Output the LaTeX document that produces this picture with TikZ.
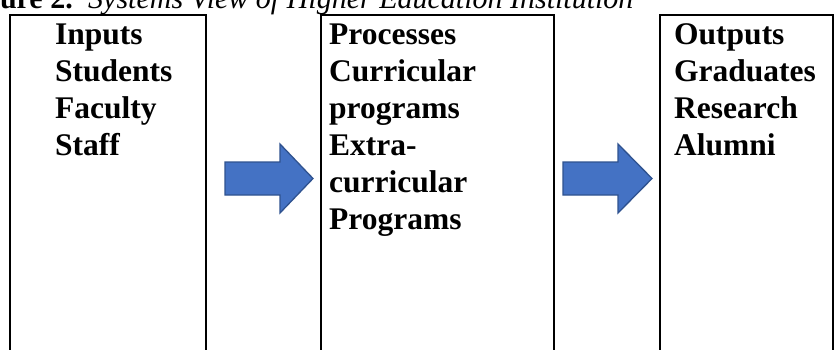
\documentclass[tikz,border=0pt]{standalone}
\usepackage{fontspec}
\setmainfont{Liberation Serif}
\definecolor{arrowfill}{RGB}{68,114,196}
\definecolor{arrowline}{RGB}{47,82,143}
\begin{document}
\begin{tikzpicture}[x=1pt,y=-1pt,
  colbox/.style={draw=black,line width=2pt},
  coltext/.style={anchor=base west,inner sep=0pt,
    font=\fontsize{31.5}{37}\selectfont\bfseries},
  blockarrow/.style={fill=arrowfill,draw=arrowline,line width=1.3pt,line join=miter}]
\useasboundingbox (0,0) rectangle (834,349);
\clip (0,0) rectangle (834,349);
\fill[white] (0,0) rectangle (834,349);
% caption
\node[anchor=base east,inner sep=0pt,font=\fontsize{30}{36}\selectfont\bfseries] (figlabel) at (73,8) {Figure 2.};
\node[anchor=base west,inner sep=0pt,font=\fontsize{30}{36}\selectfont\itshape] (figtitle) at (88,8) {Systems View of Higher Education Institution};
% boxes
\draw[colbox] (9.5,14.5) rectangle (206,370);
\draw[colbox] (320.5,14.5) rectangle (554,370);
\draw[colbox] (659.5,14.5) rectangle (832.5,370);
% texts
\node[coltext] (inputs) at (55,44) {\parbox[t]{140pt}{\raggedright Inputs\\Students\\Faculty\\Staff}};
\node[coltext] (processes) at (329,44) {\parbox[t]{215pt}{\raggedright Processes\\Curricular\\programs\\Extra-\\curricular\\Programs}};
\node[coltext] (outputs) at (674,44) {\parbox[t]{150pt}{\raggedright Outputs\\Graduates\\Research\\Alumni}};
% block arrows
\draw[blockarrow] (225,162) -- (280,162) -- (280,144) -- (313,178.5) -- (280,213) -- (280,195) -- (225,195) -- cycle;
\draw[blockarrow] (563,162) -- (618,162) -- (618,144) -- (652,178.5) -- (618,213) -- (618,195) -- (563,195) -- cycle;
\end{tikzpicture}
\end{document}
